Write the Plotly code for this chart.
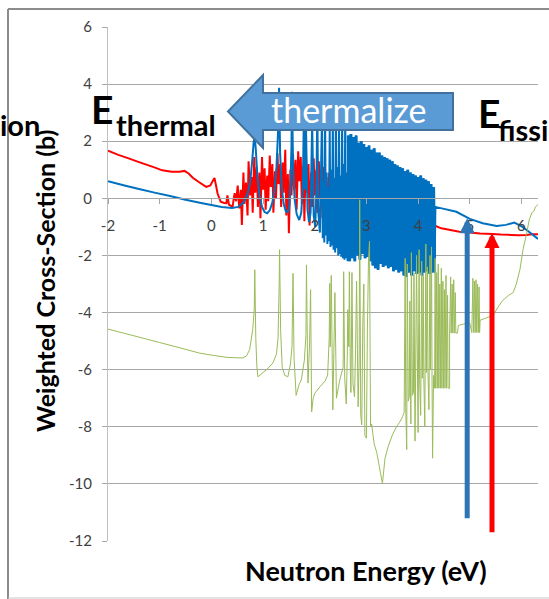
import plotly.graph_objects as go

# ---------------------------------------------------------------------------
# Weighted cross-sections vs. log10 neutron energy (eV)
# ---------------------------------------------------------------------------

# Red series ---------------------------------------------------------------
red_E_low = [-2.0, -1.8, -1.6, -1.4, -1.13, -0.95, -0.77, -0.62, -0.52, -0.44,
             -0.36, -0.25, -0.1, -0.02, 0.03, 0.06, 0.09, 0.12, 0.18, 0.25,
             0.29, 0.31, 0.34, 0.41, 0.45]
red_xs_low = [1.67, 1.52, 1.4, 1.27, 1.1, 0.98, 0.93, 0.93, 0.96, 0.87,
              0.72, 0.58, 0.4, 0.45, 0.62, 0.71, 0.45, 0.17, -0.12, -0.16,
              -0.17, 0.1, -0.22, -0.3, 0.18]

red_E_res = [0.48, 0.51, 0.54, 0.57, 0.59, 0.62, 0.64, 0.67, 0.70, 0.72,
             0.75, 0.78, 0.80, 0.83, 0.85, 0.88, 0.90, 0.93, 0.95, 0.98,
             1.00, 1.03, 1.05, 1.08, 1.10, 1.13, 1.15, 1.18, 1.20, 1.23,
             1.25, 1.28, 1.30, 1.33, 1.35, 1.38, 1.40, 1.43, 1.45, 1.48,
             1.50, 1.53, 1.55, 1.58, 1.60, 1.63, 1.65, 1.68, 1.70, 1.73,
             1.75, 1.78, 1.80, 1.83, 1.85, 1.88, 1.90, 1.93, 1.95, 1.98,
             2.00, 2.03, 2.05, 2.08, 2.10, 2.13, 2.15, 2.18, 2.20, 2.23,
             2.25, 2.28, 2.30, 2.33, 2.36, 2.39, 2.42, 2.45, 2.48, 2.51,
             2.54, 2.57, 2.60, 2.65, 2.70, 2.80, 2.90, 3.00, 3.10, 3.20,
             3.30, 3.40, 3.50, 3.60, 3.70, 3.80, 3.90, 4.00, 4.10, 4.20, 4.30]
red_xs_res = [-0.1, 0.45, -0.35, 0.3, -0.93, 0.9, -0.2, 0.55, -0.6, 1.3,
              0.1, 0.75, -0.5, 1.45, 0.2, 1.1, -0.3, 0.9, -0.7, 1.45,
              0.3, 1.05, -0.4, 0.8, -0.1, 1.5, 0.4, 1.2, -0.5, 0.95,
              0.0, 1.58, 0.5, 1.2, -0.3, 1.25, 0.2, 1.7, -0.6, 0.85,
              -1.22, 1.0, 0.1, 1.55, 0.3, 1.35, -0.4, 1.65, 0.6, 1.45,
              -0.2, 1.15, -0.8, 1.6, 0.2, 1.2, -0.95, 0.9, -0.3, 1.4,
              0.1, 1.0, -0.5, 1.3, 0.0, 0.85, -0.7, 1.1, -0.2, 0.75,
              -0.9, 0.9, -0.4, 0.6, -0.8, 0.7, -0.3, 0.55, -1.0, 0.45,
              -0.5, 0.3, -1.1, 0.2, -0.9, 0.1, -1.0, 0.0, -1.1, -0.1,
              -1.2, -0.2, -1.1, -0.3, -1.2, -0.4, -1.1, -0.5, -1.2, -0.6, -0.95]

red_E_high = [4.34, 4.45, 4.6, 4.8, 5.0, 5.2, 5.44, 5.6, 5.8, 5.95, 6.1, 6.2, 6.32]
red_xs_high = [-0.97, -1.05, -1.1, -1.17, -1.2, -1.23, -1.25, -1.27, -1.28,
               -1.29, -1.28, -1.26, -1.26]

# Blue series --------------------------------------------------------------
blue_E_low = [-2.0, -1.7, -1.4, -1.1, -0.8, -0.5, -0.2, 0.0, 0.2, 0.4,
              0.52, 0.62, 0.7, 0.75, 0.79, 0.82, 0.84, 0.86, 0.89, 0.93,
              0.98, 1.03, 1.08, 1.13, 1.18, 1.22, 1.26, 1.29, 1.31, 1.33,
              1.36, 1.4, 1.44, 1.48, 1.51, 1.53, 1.55, 1.56, 1.58, 1.61,
              1.65, 1.7, 1.74]
blue_xs_low = [0.6, 0.46, 0.33, 0.2, 0.08, -0.05, -0.16, -0.23, -0.3, -0.34,
               -0.3, -0.15, 0.15, 0.55, 1.3, 2.0, 2.15, 1.7, 0.8, 0.1,
               -0.3, -0.48, -0.52, -0.42, -0.15, 0.3, 1.1, 2.3, 3.87, 1.6,
               0.4, -0.2, -0.45, -0.48, -0.25, 0.5, 1.8, 3.73, 1.2, 0.0,
               -0.55, -0.76, -0.5]

blue_E_res = [1.77, 1.79, 1.81, 1.83, 1.86, 1.89, 1.92, 1.95, 1.98, 2.01,
              2.03, 2.05, 2.07, 2.10, 2.12, 2.14, 2.155, 2.17, 2.185, 2.2,
              2.215, 2.23, 2.245, 2.26, 2.275, 2.29, 2.305, 2.32, 2.335, 2.35,
              2.365, 2.38, 2.395, 2.41, 2.425, 2.44, 2.455, 2.47, 2.485, 2.5,
              2.515, 2.53, 2.545, 2.56, 2.575, 2.59, 2.605, 2.62, 2.635]
blue_xs_res = [0.4, 2.9, 0.3, 2.6, -0.4, -0.83, -0.5, 2.7, -0.6, -1.0,
               0.2, 3.0, -0.5, -1.2, 0.8, 2.8, -1.4, 0.6, -1.55, 3.1,
               -1.3, 0.9, -1.6, 0.4, -1.5, 2.5, -1.7, 1.0, -1.65, 2.9,
               -1.8, 0.7, -1.9, 3.2, -1.75, 1.1, -2.0, 2.6, -1.95, 0.8,
               -2.05, 2.8, -2.1, 1.2, -2.15, 3.0, -2.1, 0.9, -2.2]

blue_E_dense = [2.65, 2.675, 2.70, 2.725, 2.75, 2.775, 2.80, 2.825, 2.85, 2.875,
                2.90, 2.925, 2.95, 2.975, 3.00, 3.025, 3.05, 3.075, 3.10, 3.125,
                3.15, 3.175, 3.20, 3.225, 3.25, 3.275, 3.30, 3.325, 3.35, 3.375,
                3.40, 3.425, 3.45, 3.475, 3.50, 3.525, 3.55, 3.575, 3.60, 3.625,
                3.65, 3.675, 3.70, 3.725, 3.75, 3.775, 3.80, 3.825, 3.85, 3.875,
                3.90, 3.925, 3.95, 3.975, 4.00, 4.025, 4.05, 4.075, 4.10, 4.125,
                4.15, 4.175, 4.20, 4.225, 4.25, 4.275, 4.30, 4.32]
blue_xs_dense = [2.2, -2.2, 2.25, -2.1, 2.15, -2.2, 2.2, -2.0, 1.95, -2.15,
                 2.0, -1.95, 1.9, -2.1, 1.8, -2.05, 1.85, -2.2, 1.7, -2.35,
                 1.75, -2.45, 1.6, -2.5, 1.6, -2.3, 1.5, -2.4, 1.45, -2.35,
                 1.4, -2.45, 1.35, -2.4, 1.3, -2.55, 1.2, -2.5, 1.15, -2.6,
                 1.1, -2.55, 1.05, -2.7, 0.95, -2.75, 1.0, -2.6, 0.9, -2.7,
                 0.85, -2.55, 0.8, -2.65, 0.75, -2.6, 0.8, -2.7, 0.7, -2.6,
                 0.65, -2.55, 0.6, -2.65, 0.5, -2.6, 0.4, -2.6]

blue_E_high = [4.335, 4.5, 4.74, 5.0, 5.25, 5.52, 5.7, 5.8, 5.86, 5.92, 6.02, 6.15, 6.32]
blue_xs_high = [-0.3, -0.37, -0.47, -0.72, -0.87, -0.97, -0.93, -0.88, -0.85,
                -0.9, -1.0, -1.18, -1.42]

# Green series -------------------------------------------------------------
green_E_a = [-2.0, -1.7, -1.4, -1.0, -0.6, -0.23, 0.0, 0.3, 0.61, 0.68,
             0.74, 0.8, 0.83, 0.84, 0.86, 0.88, 0.9, 1.0, 1.07, 1.19,
             1.26, 1.29, 1.31, 1.32, 1.34, 1.37, 1.42, 1.48, 1.53, 1.56,
             1.58, 1.6, 1.64, 1.7, 1.74, 1.8, 1.83, 1.84, 1.86, 1.87,
             1.9, 1.92, 1.94, 1.97, 2.0, 2.1, 2.2, 2.25, 2.28, 2.29,
             2.3, 2.32, 2.34, 2.35, 2.37, 2.39, 2.42, 2.48, 2.55, 2.56,
             2.58, 2.61, 2.63, 2.64, 2.66, 2.67, 2.69, 2.7, 2.71, 2.72,
             2.74, 2.77, 2.79, 2.81, 2.84]
green_xs_a = [-4.58, -4.72, -4.86, -5.05, -5.24, -5.42, -5.49, -5.57, -5.59, -5.52,
              -5.3, -4.6, -3.9, -2.5, -4.9, -5.9, -6.25, -6.1, -6.0, -5.77,
              -5.45, -4.9, -3.2, -1.8, -4.6, -5.9, -6.2, -6.25, -5.8, -5.2,
              -2.63, -5.6, -6.9, -6.5, -6.36, -5.66, -4.8, -2.33, -5.6, -6.47,
              -5.1, -3.2, -7.48, -7.0, -6.83, -6.6, -6.4, -6.19, -4.9, -2.98,
              -5.2, -2.7, -5.9, -7.41, -5.4, -3.3, -7.0, -6.4, -5.9, -2.57,
              -6.3, -7.2, -5.5, -3.9, -5.2, -2.57, -6.1, -6.8, -5.0, -2.6,
              -6.5, -6.95, -5.3, -2.9, -7.3]

green_E_b = [2.86, 2.87, 2.89, 2.91, 2.93, 2.95, 2.97, 3.0, 3.02, 3.04,
             3.06, 3.08, 3.1, 3.15, 3.2, 3.25, 3.31, 3.36, 3.42, 3.5,
             3.58, 3.64, 3.7]
green_xs_b = [-5.6, -0.05, -7.6, -7.93, -4.4, -3.0, -8.3, -8.4, -4.5, -2.2,
              -1.5, -8.0, -7.9, -8.6, -8.9, -9.4, -9.98, -9.1, -8.7, -8.3,
              -8.0, -7.85, -7.65]

green_E_c = [3.73, 3.75, 3.76, 3.78, 3.79, 3.81, 3.83, 3.84, 3.86, 3.87,
             3.89, 3.91, 3.92, 3.94, 3.95, 3.97, 3.99, 4.0, 4.02, 4.03,
             4.05, 4.07, 4.08, 4.1, 4.11, 4.13, 4.15, 4.16, 4.18, 4.19,
             4.21, 4.23, 4.24, 4.26, 4.27, 4.28, 4.3]
green_xs_c = [-7.5, -2.1, -7.3, -8.8, -2.3, -7.1, -6.95, -3.6, -7.9, -1.9,
              -6.9, -6.8, -2.6, -8.5, -6.7, -2.0, -6.5, -8.2, -1.8, -6.4,
              -7.6, -2.2, -6.3, -2.7, -6.2, -8.0, -1.6, -6.1, -2.4, -6.0,
              -7.4, -2.0, -6.0, -1.7, -6.4, -9.1, -6.2]

green_E_d = [4.32, 4.33, 4.34, 4.36, 4.37, 4.39, 4.4, 4.42, 4.43, 4.45,
             4.46, 4.48, 4.49, 4.51, 4.52, 4.54, 4.55, 4.57, 4.58, 4.61,
             4.61, 4.63, 4.64, 4.66, 4.67, 4.69, 4.7, 4.72, 4.73, 4.76,
             4.78, 4.88, 5.0, 5.04, 5.06, 5.075, 5.09, 5.105, 5.12, 5.135,
             5.15, 5.165, 5.18, 5.19, 5.2, 5.3, 5.45, 5.55, 5.64, 5.75,
             5.84, 5.9, 5.97, 6.03, 6.1, 6.15, 6.2, 6.24, 6.27, 6.32]
green_xs_d = [-6.65, -2.1, -6.65, -2.6, -6.65, -2.3, -6.65, -3.0, -6.65, -2.45,
              -6.65, -2.9, -6.65, -3.2, -6.65, -2.7, -6.65, -3.4, -6.65, -6.65,
              -4.72, -2.75, -4.72, -3.0, -4.72, -2.85, -4.72, -3.3, -4.72, -4.72,
              -4.45, -4.4, -4.37, -4.7, -2.8, -4.7, -2.9, -4.7, -2.85, -4.7,
              -3.0, -4.7, -3.1, -4.7, -4.27, -4.2, -4.1, -3.8, -3.57, -3.4,
              -3.3, -3.0, -2.5, -1.8, -1.22, -0.76, -0.5, -0.45, -0.3, -0.22]

red_E = red_E_low + red_E_res + red_E_high
red_xs = red_xs_low + red_xs_res + red_xs_high
blue_E = blue_E_low + blue_E_res + blue_E_dense + blue_E_high
blue_xs = blue_xs_low + blue_xs_res + blue_xs_dense + blue_xs_high
green_E = green_E_a + green_E_b + green_E_c + green_E_d
green_xs = green_xs_a + green_xs_b + green_xs_c + green_xs_d
assert len(red_E) == len(red_xs)
assert len(blue_E) == len(blue_xs)
assert len(blue_E_dense) == len(blue_xs_dense)
assert len(green_E) == len(green_xs)

# Marker arrows (energy, tip value, tail value)
blue_arrow = (4.95, -0.70, -11.26)
red_arrow = (5.43, -1.21, -11.75)

# Axes
x_range = [-2, 6.32]
y_range = [-12, 6]
x_ticks = [-2, -1, 0, 1, 2, 3, 4, 5, 6]
y_ticks = [-12, -10, -8, -6, -4, -2, 0, 2, 4, 6]
x_ticktext = [str(v) for v in x_ticks]
y_ticktext = [str(v) for v in y_ticks]

# ---------------------------------------------------------------------------
W, H = 549, 599
L, R, T, B = 108, 11, 27, 58
PW, PH = W - L - R, H - T - B
FONT = "Lato"


def fx(px):
    return (px - L) / PW


def fy(py):
    return (H - B - py) / PH


def label(text, px, py, size, xanchor="center", bold=True, color="black", **kw):
    font = dict(family=FONT, size=size, color=color)
    if bold:
        font["weight"] = "bold"
    return dict(text=text, x=fx(px), y=fy(py), xref="paper", yref="paper",
                xanchor=xanchor, yanchor="middle", showarrow=False, font=font, **kw)


fig = go.Figure()
for E, xs, color, width in [(red_E, red_xs, "#FF0000", 2),
                            (blue_E, blue_xs, "#0070C0", 2),
                            (blue_E_dense, blue_xs_dense, "#0070C0", 3),
                            (green_E, green_xs, "#9BBB59", 1)]:
    fig.add_trace(go.Scatter(x=E, y=xs, mode="lines",
                             line=dict(color=color, width=width, simplify=False),
                             showlegend=False, hoverinfo="skip"))

# block arrow "thermalize"
ax_pts = [(228, 111.5), (263, 75), (263, 93), (453, 93), (453, 130),
          (263, 130), (263, 148)]
path = "M " + " L ".join(f"{fx(a):.4f},{fy(b):.4f}" for a, b in ax_pts) + " Z"
shapes = [
    dict(type="path", xref="paper", yref="paper", path=path,
         fillcolor="#5B9BD5", line=dict(color="#41719C", width=2)),
    dict(type="line", xref="paper", yref="paper", x0=fx(8), x1=fx(8),
         y0=fy(9), y1=fy(600), line=dict(color="#8C8C8C", width=2)),
    dict(type="line", xref="paper", yref="paper", x0=fx(8), x1=fx(550),
         y0=fy(9), y1=fy(9), line=dict(color="#8C8C8C", width=2)),
    dict(type="line", xref="paper", yref="paper", x0=fx(8), x1=fx(550),
         y0=fy(598), y1=fy(598), line=dict(color="#C8C8C8", width=1)),
]

annotations = [
    label("thermalize", 349, 110, 34, bold=False, color="white"),
    label("E", 115, 109, 39, xanchor="right"),
    label("thermal", 114, 124, 29, xanchor="left"),
    label("ion", 42, 124, 29, xanchor="right"),
    label("E", 476, 113, 39, xanchor="left"),
    label("fission", 496, 129, 29, xanchor="left"),
    label("Weighted Cross-Section (b)", 45, 281, 25, textangle=-90),
    label("Neutron Energy (eV)", 366, 570, 27),
]
for (e, tip, tail), color in [(blue_arrow, "#2E75B6"), (red_arrow, "#FF0000")]:
    annotations.append(dict(x=e, y=tip, ax=e, ay=tail, xref="x", yref="y",
                            axref="x", ayref="y", text="", showarrow=True,
                            arrowhead=2, arrowsize=0.6, arrowwidth=5,
                            arrowcolor=color))

tickfont = dict(family=FONT, size=15, color="#404040")
fig.update_layout(
    width=W, height=H,
    margin=dict(l=L, r=R, t=T, b=B),
    paper_bgcolor="white", plot_bgcolor="white",
    shapes=shapes, annotations=annotations,
    xaxis=dict(range=x_range, tickmode="array", tickvals=x_ticks, ticktext=x_ticktext,
               showgrid=False, zeroline=False,
               showline=True, linecolor="#A6A6A6", linewidth=1,
               ticks="outside", ticklen=5, tickcolor="#A6A6A6",
               anchor="free", position=(0 - y_range[0]) / (y_range[1] - y_range[0]),
               tickfont=tickfont, ticklabelstandoff=9),
    yaxis=dict(range=y_range, tickmode="array", tickvals=y_ticks, ticktext=y_ticktext,
               showgrid=True, gridcolor="#A6A6A6", gridwidth=1, zeroline=False,
               showline=True, linecolor="#BFBFBF", linewidth=1,
               ticks="outside", ticklen=5, tickcolor="#A6A6A6",
               tickfont=tickfont, ticklabelstandoff=7),
)

fig.write_html("out.html", config={"displayModeBar": False})
